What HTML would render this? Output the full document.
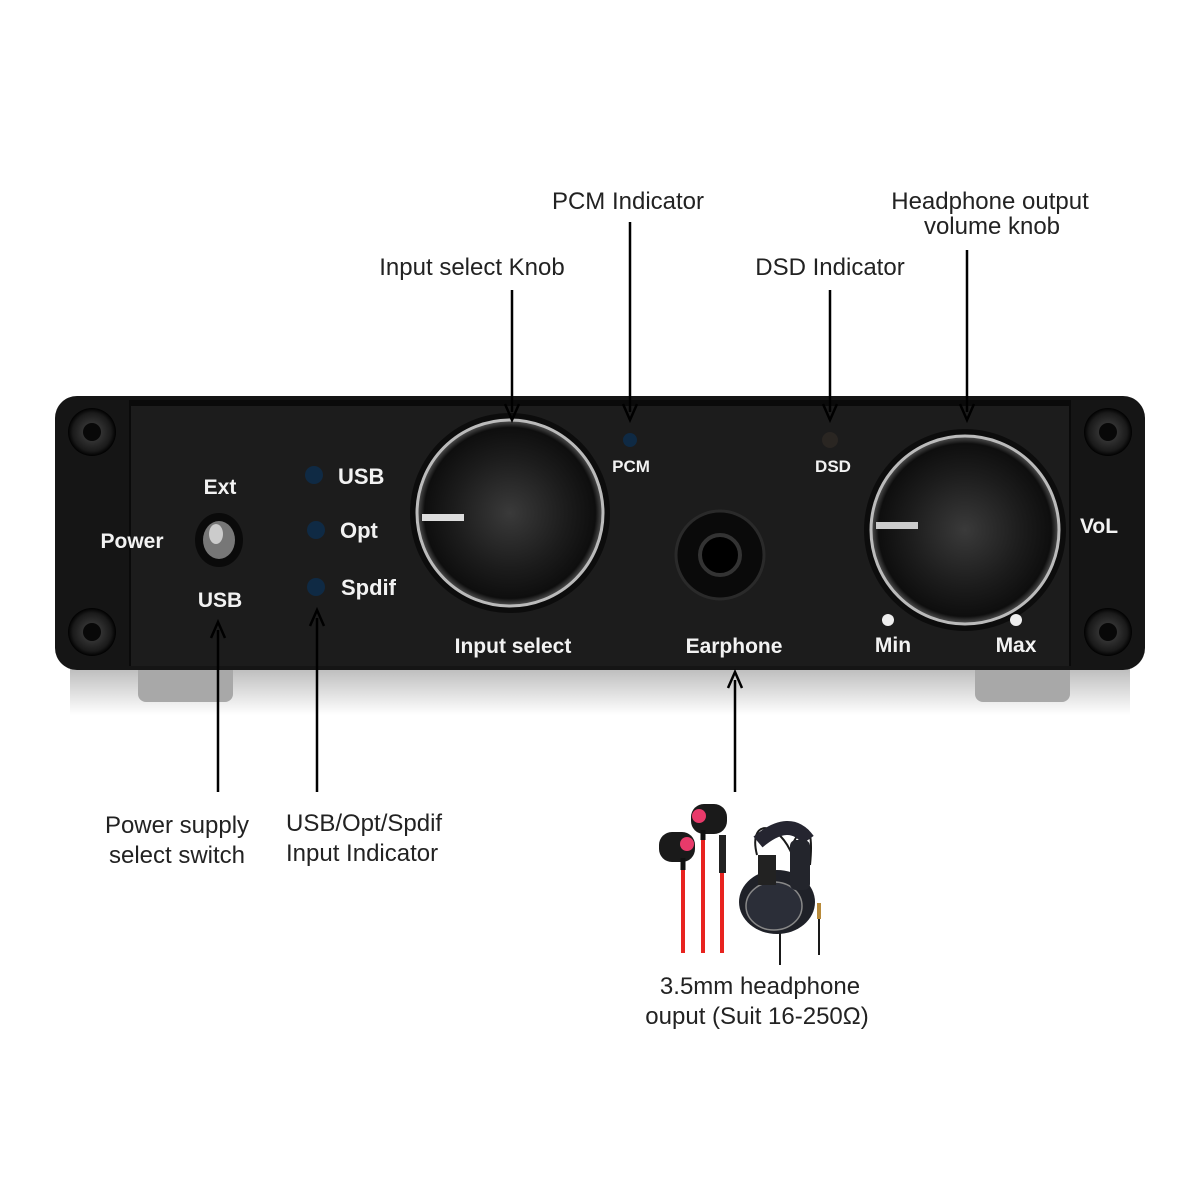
<!DOCTYPE html>
<html><head><meta charset="utf-8"><style>
html,body{margin:0;padding:0;background:#fff;}
svg{display:block}
.l{font-family:"Liberation Sans",sans-serif;font-size:24px;fill:#222;}
.w{font-family:"Liberation Sans",sans-serif;font-weight:bold;fill:#f2f2f2;}
</style></head><body>
<svg width="1200" height="1200" viewBox="0 0 1200 1200" xmlns="http://www.w3.org/2000/svg">
<defs>
<radialGradient id="knob" cx="50%" cy="50%" r="50%">
<stop offset="0" stop-color="#3a3a3a"/><stop offset="0.6" stop-color="#1c1c1c"/><stop offset="0.92" stop-color="#0e0e0e"/><stop offset="1" stop-color="#555"/>
</radialGradient>
<linearGradient id="shadow" x1="0" y1="0" x2="0" y2="1">
<stop offset="0" stop-color="#999"/><stop offset="1" stop-color="#fff"/>
</linearGradient>
<radialGradient id="screw" cx="50%" cy="50%" r="50%">
<stop offset="0" stop-color="#111"/><stop offset="0.35" stop-color="#333"/><stop offset="0.8" stop-color="#1a1a1a"/><stop offset="1" stop-color="#000"/>
</radialGradient>
</defs>
<!-- shadow -->
<rect x="70" y="665" width="1060" height="50" fill="url(#shadow)" opacity="0.7"/>
<!-- feet -->
<rect x="138" y="660" width="95" height="42" rx="8" fill="#a8a8a8"/>
<rect x="975" y="660" width="95" height="42" rx="8" fill="#a8a8a8"/>
<!-- body -->
<rect x="55" y="396" width="1090" height="274" rx="22" fill="#151515"/>
<rect x="130" y="400" width="940" height="266" fill="#1c1c1c"/>
<rect x="130" y="400" width="940" height="6" fill="#0a0a0a"/>
<line x1="130" y1="400" x2="130" y2="666" stroke="#0a0a0a" stroke-width="2"/>
<line x1="1070" y1="400" x2="1070" y2="666" stroke="#0a0a0a" stroke-width="2"/>
<!-- screws -->
<g>
<circle cx="92" cy="432" r="24" fill="url(#screw)"/><circle cx="92" cy="432" r="9" fill="#080808"/>
<circle cx="92" cy="632" r="24" fill="url(#screw)"/><circle cx="92" cy="632" r="9" fill="#080808"/>
<circle cx="1108" cy="432" r="24" fill="url(#screw)"/><circle cx="1108" cy="432" r="9" fill="#080808"/>
<circle cx="1108" cy="632" r="24" fill="url(#screw)"/><circle cx="1108" cy="632" r="9" fill="#080808"/>
</g>
<!-- power switch -->
<text class="w" x="132" y="548" font-size="21" text-anchor="middle">Power</text>
<text class="w" x="220" y="494" font-size="21" text-anchor="middle">Ext</text>
<text class="w" x="220" y="607" font-size="21" text-anchor="middle">USB</text>
<ellipse cx="219" cy="540" rx="24" ry="27" fill="#0a0a0a"/>
<ellipse cx="219" cy="540" rx="16" ry="19" fill="#777"/>
<ellipse cx="216" cy="534" rx="7" ry="10" fill="#ccc"/>
<!-- LEDs -->
<circle cx="314" cy="475" r="9" fill="#0f2a44"/>
<circle cx="316" cy="530" r="9" fill="#0f2a44"/>
<circle cx="316" cy="587" r="9" fill="#0f2a44"/>
<text class="w" x="338" y="484" font-size="22">USB</text>
<text class="w" x="340" y="538" font-size="22">Opt</text>
<text class="w" x="341" y="595" font-size="22">Spdif</text>
<!-- input knob -->
<circle cx="510" cy="513" r="100" fill="#0c0c0c"/>
<circle cx="510" cy="513" r="93" fill="url(#knob)" stroke="#bbb" stroke-width="3"/>
<rect x="422" y="514" width="42" height="7" fill="#ddd"/>
<text class="w" x="513" y="653" font-size="21" text-anchor="middle">Input   select</text>
<!-- PCM -->
<circle cx="630" cy="440" r="7" fill="#0f2a44"/>
<text class="w" x="631" y="472" font-size="17" text-anchor="middle">PCM</text>
<!-- DSD -->
<circle cx="830" cy="440" r="8" fill="#2a2622"/>
<text class="w" x="833" y="472" font-size="17" text-anchor="middle">DSD</text>
<!-- jack -->
<circle cx="720" cy="555" r="44" fill="#0a0a0a" stroke="#2a2a2a" stroke-width="3"/>
<circle cx="720" cy="555" r="20" fill="#000" stroke="#333" stroke-width="4"/>
<text class="w" x="734" y="653" font-size="21" text-anchor="middle">Earphone</text>
<!-- volume knob -->
<circle cx="965" cy="530" r="101" fill="#0c0c0c"/>
<circle cx="965" cy="530" r="94" fill="url(#knob)" stroke="#bbb" stroke-width="3"/>
<rect x="876" y="522" width="42" height="7" fill="#ccc"/>
<circle cx="888" cy="620" r="6" fill="#eee"/>
<circle cx="1016" cy="620" r="6" fill="#eee"/>
<text class="w" x="893" y="652" font-size="21" text-anchor="middle">Min</text>
<text class="w" x="1016" y="652" font-size="21" text-anchor="middle">Max</text>
<text class="w" x="1099" y="533" font-size="21" text-anchor="middle">VoL</text>
<!-- connectors -->
<g stroke="#000" stroke-width="2.5" fill="none">
<line x1="512" y1="290" x2="512" y2="412"/>
<polyline points="505,404 512,420 519,404"/>
<line x1="630" y1="222" x2="630" y2="412"/>
<polyline points="623,404 630,420 637,404"/>
<line x1="830" y1="290" x2="830" y2="412"/>
<polyline points="823,404 830,420 837,404"/>
<line x1="967" y1="250" x2="967" y2="412"/>
<polyline points="960,404 967,420 974,404"/>
<line x1="218" y1="630" x2="218" y2="792"/>
<polyline points="211,638 218,622 225,638"/>
<line x1="317" y1="618" x2="317" y2="792"/>
<polyline points="310,626 317,610 324,626"/>
<line x1="735" y1="680" x2="735" y2="792"/>
<polyline points="728,688 735,672 742,688"/>
</g>
<!-- labels -->
<text class="l" x="628" y="209" text-anchor="middle">PCM Indicator</text>
<text class="l" x="990" y="209" text-anchor="middle">Headphone output</text>
<text class="l" x="992" y="234" text-anchor="middle">volume knob</text>
<text class="l" x="472" y="275" text-anchor="middle">Input select Knob</text>
<text class="l" x="830" y="275" text-anchor="middle">DSD Indicator</text>
<text class="l" x="177" y="833" text-anchor="middle">Power supply</text>
<text class="l" x="177" y="863" text-anchor="middle">select switch</text>
<text class="l" x="286" y="831">USB/Opt/Spdif</text>
<text class="l" x="286" y="861">Input Indicator</text>
<text class="l" x="760" y="994" text-anchor="middle">3.5mm headphone</text>
<text class="l" x="757" y="1024" text-anchor="middle">ouput (Suit 16-250Ω)</text>
<!-- earphones -->
<g>
<line x1="683" y1="860" x2="683" y2="953" stroke="#e8231f" stroke-width="4"/>
<line x1="703" y1="835" x2="703" y2="953" stroke="#e8231f" stroke-width="4"/>
<line x1="722" y1="870" x2="722" y2="953" stroke="#e8231f" stroke-width="4"/>
<rect x="719" y="835" width="7" height="38" fill="#222"/>
<rect x="659" y="832" width="36" height="30" rx="13" fill="#1a1a1a"/>
<circle cx="687" cy="844" r="7" fill="#e83a6a"/>
<rect x="691" y="804" width="36" height="30" rx="13" fill="#1a1a1a"/>
<circle cx="699" cy="816" r="7" fill="#e83a6a"/>
<line x1="683" y1="858" x2="683" y2="870" stroke="#111" stroke-width="5"/>
<line x1="703" y1="830" x2="703" y2="840" stroke="#111" stroke-width="5"/>
</g>
<!-- headphones -->
<g fill="none" stroke="#1a1a1a">
<path d="M757 855 C748 820 775 820 790 850 C800 825 815 815 810 865" stroke-width="2"/>
<path d="M758 842 Q790 815 808 840" stroke-width="14" stroke="#252530"/>
<line x1="780" y1="930" x2="780" y2="965" stroke-width="2"/>
<line x1="819" y1="905" x2="819" y2="955" stroke-width="2"/>
</g>
<ellipse cx="777" cy="902" rx="38" ry="32" fill="#1f2128"/>
<ellipse cx="774" cy="906" rx="28" ry="24" fill="#2b2e38" stroke="#888" stroke-width="1.5"/>
<rect x="758" y="855" width="18" height="30" fill="#222"/>
<rect x="790" y="840" width="20" height="50" rx="6" fill="#23252c"/>
<rect x="817" y="903" width="4" height="16" fill="#b88a3a"/>
</svg>
</body></html>
